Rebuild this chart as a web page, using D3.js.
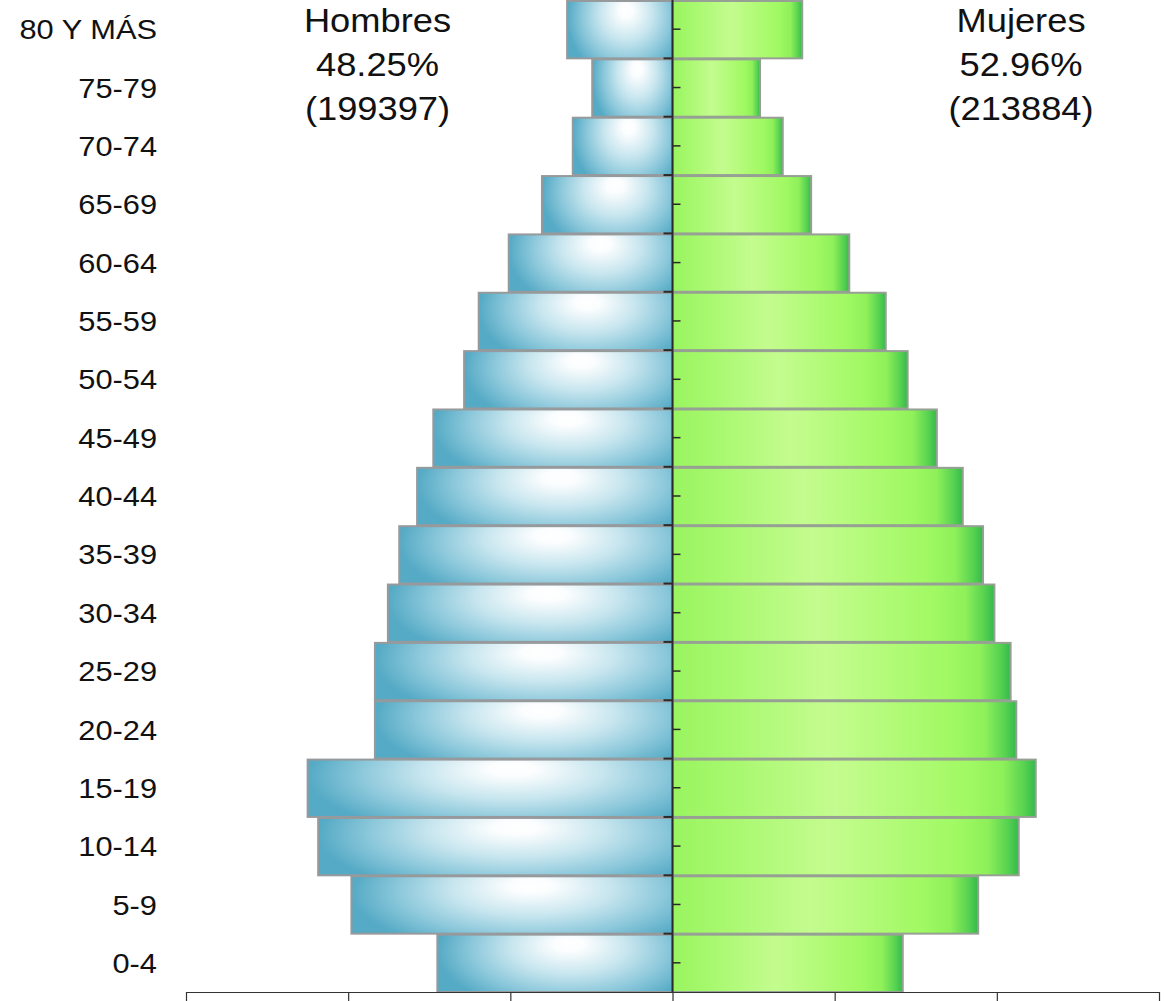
<!DOCTYPE html>
<html lang="es">
<head>
<meta charset="utf-8">
<title>Pirámide de población</title>
<script src="https://cdn.jsdelivr.net/npm/d3@7"></script>
<style>
  html, body { margin: 0; padding: 0; background: #ffffff; }
  svg { display: block; }
  text { font-family: "Liberation Sans", Arial, "Helvetica", sans-serif; fill: #111; }
</style>
</head>
<body>
<svg id="chart" width="1165" height="1001"></svg>
<script>
// Age groups, from oldest (top) to youngest (bottom)
const ageGroups = ["80 Y MÁS", "75-79", "70-74", "65-69", "60-64", "55-59", "50-54",
  "45-49", "40-44", "35-39", "30-34", "25-29", "20-24", "15-19", "10-14", "5-9", "0-4"];

// Share of the total population (%) in each age group
const hombres = [1.30, 0.99, 1.23, 1.61, 2.02, 2.39, 2.57, 2.95, 3.15, 3.37, 3.51, 3.67, 3.67, 4.50, 4.37, 3.96, 2.90];
const mujeres = [1.60, 1.08, 1.36, 1.71, 2.18, 2.63, 2.90, 3.26, 3.58, 3.83, 3.97, 4.17, 4.24, 4.48, 4.27, 3.77, 2.84];

// Bottom axis tick positions (%)
const xTicks = [-6, -4, -2, 0, 2, 4, 6];

// Headline texts for each side
const tituloHombres = ["Hombres", "48.25%", "(199397)"];
const tituloMujeres = ["Mujeres", "52.96%", "(213884)"];

const svg = d3.select("#chart");
const defs = svg.append("defs");

// Blue glossy fill for the male bars
const gBlue = defs.append("radialGradient")
  .attr("id", "gradHombres")
  .attr("cx", 0.56).attr("cy", 0.3).attr("r", 0.56)
  .attr("fx", 0.56).attr("fy", 0.22)
  .attr("gradientTransform", "translate(0.56,0.3) scale(1,1.9) translate(-0.56,-0.3)");
[[0, "#ffffff"], [0.12, "#fbfdfe"], [0.45, "#c6e5ee"], [0.75, "#8ac7da"], [1, "#55aac5"]].forEach(([o, c]) =>
  gBlue.append("stop").attr("offset", o).attr("stop-color", c));

// Green glossy fill for the female bars
const gGreen = defs.append("linearGradient")
  .attr("id", "gradMujeres")
  .attr("x1", 0).attr("x2", 1).attr("y1", 0).attr("y2", 0);
[[0, "#99f45f"], [0.15, "#a6f86d"], [0.45, "#c4fc8f"], [0.6, "#b6fb7d"],
 [0.82, "#a0f962"], [0.91, "#8ef05a"], [0.97, "#55d150"], [1, "#34b94c"]].forEach(([o, c]) =>
  gGreen.append("stop").attr("offset", o).attr("stop-color", c));

// Scales
const x = d3.scaleLinear().domain([-6, 6]).range([186, 1159]);
const y = d3.scaleBand().domain(ageGroups).range([0, 992]).padding(0);
const bw = y.bandwidth();

const rows = ageGroups.map((g, i) => ({ grupo: g, h: hombres[i], m: mujeres[i] }));

// Male bars (left)
svg.append("g").selectAll("rect")
  .data(rows).join("rect")
  .attr("x", d => x(-d.h))
  .attr("y", d => y(d.grupo) + 1)
  .attr("width", d => x(0) - x(-d.h))
  .attr("height", bw - 1)
  .attr("fill", "url(#gradHombres)")
  .attr("stroke", "#979a9c")
  .attr("stroke-width", 2);

// Female bars (right)
svg.append("g").selectAll("rect")
  .data(rows).join("rect")
  .attr("x", x(0))
  .attr("y", d => y(d.grupo) + 1)
  .attr("width", d => x(d.m) - x(0))
  .attr("height", bw - 1)
  .attr("fill", "url(#gradMujeres)")
  .attr("stroke", "#97a094")
  .attr("stroke-width", 2);

// Central axis: line, boundary ticks to the left, centre ticks to the right
const centro = svg.append("g");
centro.append("line")
  .attr("x1", x(0)).attr("x2", x(0))
  .attr("y1", 0).attr("y2", y.range()[1])
  .attr("stroke", "#2a2a2a").attr("stroke-width", 2);
centro.selectAll("line.borde")
  .data(ageGroups.slice(1)).join("line")
  .attr("class", "borde")
  .attr("x1", x(0) - 9).attr("x2", x(0))
  .attr("y1", d => y(d)).attr("y2", d => y(d))
  .attr("stroke", "#2a2a2a").attr("stroke-width", 2);

const ejeCentro = d3.axisRight(y).tickSize(8).tickFormat("").tickSizeOuter(0);
svg.append("g")
  .attr("transform", `translate(${x(0)},0)`)
  .call(ejeCentro)
  .call(g => g.select(".domain").remove())
  .call(g => g.selectAll(".tick line").attr("stroke", "#2a2a2a").attr("stroke-width", 1.5));

// Bottom axis
const ejeX = d3.axisBottom(x).tickValues(xTicks).tickFormat("").tickSize(10).tickSizeOuter(0);
svg.append("g")
  .attr("transform", `translate(0,${y.range()[1]})`)
  .call(ejeX)
  .call(g => g.select(".domain").attr("stroke", "#333").attr("stroke-width", 1.2))
  .call(g => g.selectAll(".tick line").attr("stroke", "#333").attr("stroke-width", 1.2));

// Age group labels
svg.append("g").selectAll("text")
  .data(ageGroups).join("text")
  .attr("transform", d => `translate(157,${y(d) + bw / 2}) scale(1.1,1)`)
  .attr("text-anchor", "end")
  .attr("dy", "0.36em")
  .style("font-size", "28px")
  .text(d => d);

// Headlines
function titulo(lines, cx) {
  svg.append("g").selectAll("text")
    .data(lines).join("text")
    .attr("transform", (d, i) => `translate(${cx},${32 + i * 44}) scale(1.1,1)`)
    .attr("text-anchor", "middle")
    .style("font-size", "33px")
    .text(d => d);
}
titulo(tituloHombres, 377.5);
titulo(tituloMujeres, 1021);
</script>
</body>
</html>
